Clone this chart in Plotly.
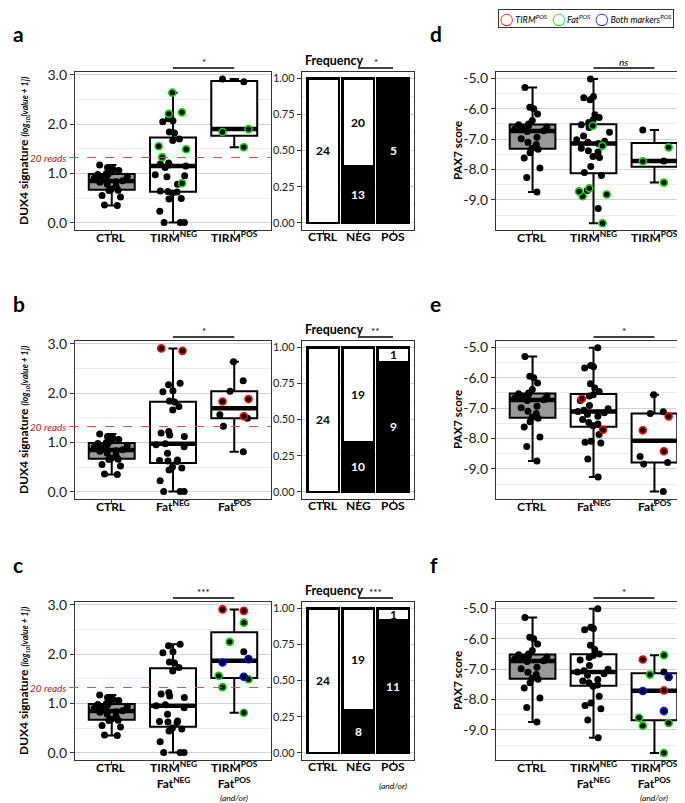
import numpy as np
import plotly.graph_objects as go

W, H = 685, 803
FONT = "Lato"

# ---------------- data ----------------
ctrl_dux4 = [1.17, 1.12, 1.08, 1.06, 1.03, 1.00, 0.98, 0.96, 0.94, 0.92, 0.90, 0.85,
             0.84, 0.83, 0.82, 0.78, 0.74, 0.68, 0.66, 0.65, 0.55, 0.52, 0.36, 0.35]
ctrl_pax7 = [-5.30, -5.95, -6.00, -6.17, -6.39, -6.50, -6.53, -6.56, -6.60, -6.62, -6.67, -6.72,
             -6.75, -6.94, -6.99, -7.10, -7.18, -7.30, -7.33, -7.45, -7.62, -7.95, -8.26, -8.74]

# panel a  (TIRM)  -- marker codes: k black, g Fat POS, r TIRM POS, b both
a_neg_dux4 = [2.64, 2.24, 2.21, 2.11, 2.07, 2.05, 1.84, 1.82, 1.70, 1.67, 1.55, 1.49, 1.33,
              1.21, 1.19, 1.17, 1.15, 1.12, 0.97, 0.95, 0.93, 0.80, 0.78, 0.64, 0.63, 0.62,
              0.60, 0.49, 0.48, 0.23, 0.0, 0.0, 0.0]
a_neg_mark = "ggg" + "k" * 7 + "ggg" + "k" * 8 + "g" + "k" * 11
a_pos_dux4 = [2.92, 2.86, 1.90, 1.84, 1.53]
a_pos_mark = "kkggg"

# panel b  (Fat)
b_neg_dux4 = [2.91, 2.86, 2.20, 2.17, 2.05, 2.03, 1.84, 1.82, 1.73, 1.66, 1.22, 1.19, 1.15,
              1.12, 0.97, 0.95, 0.91, 0.78, 0.64, 0.63, 0.62, 0.61, 0.50, 0.48, 0.44, 0.22,
              0.0, 0.0, 0.0]
b_neg_mark = "rr" + "k" * 27
b_pos_dux4 = [2.64, 2.25, 2.04, 1.88, 1.83, 1.56, 1.53, 1.49, 1.33, 0.81]
b_pos_mark = "kkkrrkrkkk"

# panel c  (TIRM and/or Fat)
c_neg_dux4 = [2.20, 2.17, 2.05, 2.03, 1.84, 1.82, 1.73, 1.66, 1.22, 1.19, 1.15, 1.12, 0.97,
              0.95, 0.91, 0.78, 0.64, 0.63, 0.62, 0.61, 0.50, 0.48, 0.44, 0.22, 0.0, 0.0, 0.0]
c_neg_mark = "k" * 27
c_pos_dux4 = [2.91, 2.88, 2.64, 2.25, 2.05, 1.90, 1.83, 1.56, 1.54, 1.49, 1.33, 0.81]
c_pos_mark = "rrggkbbgbggg"

# panel d
d_neg_pax7 = [-5.02, -5.60, -5.64, -5.70, -6.20, -6.29, -6.36, -6.45, -6.53, -6.56, -6.62,
              -6.77, -6.90, -7.02, -7.07, -7.10, -7.14, -7.22, -7.30, -7.38, -7.42, -7.57,
              -7.60, -7.90, -8.10, -8.20, -8.62, -8.69, -8.72, -8.82, -8.88, -9.28, -9.77]
d_neg_mark = "k" * 9 + "g" + "k" * 7 + "g" + "k" * 8 + "g" + "k" + "ggg" + "k" + "g"
d_pos_pax7 = [-6.70, -7.27, -7.72, -7.73, -8.43]
d_pos_mark = "kgkgg"

# panel e
e_neg_pax7 = [-5.01, -5.60, -5.64, -5.68, -6.20, -6.34, -6.45, -6.56, -6.60, -6.69, -6.75,
              -6.91, -7.02, -7.07, -7.11, -7.15, -7.20, -7.27, -7.37, -7.47, -7.52, -7.58,
              -7.71, -7.87, -8.09, -8.12, -8.15, -8.67, -9.27]
e_neg_mark = "k" * 9 + "r" + "k" * 12 + "r" + "k" * 6
e_pos_pax7 = [-6.56, -7.12, -7.18, -7.27, -7.73, -8.42, -8.59, -8.79, -8.84, -9.74]
e_pos_mark = "kkkrrrkkkk"

# panel f
f_neg_pax7 = [-5.01, -5.62, -5.66, -5.70, -6.21, -6.35, -6.50, -6.55, -6.62, -6.70, -6.88,
              -7.00, -7.05, -7.09, -7.15, -7.20, -7.34, -7.39, -7.45, -7.52, -7.56, -7.89,
              -8.11, -8.20, -8.30, -8.67, -9.26]
f_neg_mark = "k" * 27
f_pos_pax7 = [-6.54, -6.68, -7.09, -7.18, -7.26, -7.70, -7.72, -8.38, -8.60, -8.77, -8.86, -9.76]
f_pos_mark = "grkgbrbbgggg"

# frequency panels: counts above / below the 20-reads threshold
freq_cats = ["CTRL", "NEG", "POS"]
freq_above_a = [0, 13, 5]
freq_below_a = [24, 20, 0]
freq_above_b = [0, 10, 9]
freq_below_b = [24, 19, 1]
freq_above_c = [0, 8, 11]
freq_below_c = [24, 19, 1]

threshold_reads = 20

dux4_ticks = [0, 1, 2, 3]
dux4_ticktext = ["0.0", "1.0", "2.0", "3.0"]
pax7_ticks = [-9, -8, -7, -6, -5]
pax7_ticktext = ["-9.0", "-8.0", "-7.0", "-6.0", "-5.0"]
freq_ticks = [0, 0.25, 0.5, 0.75, 1.0]
freq_ticktext = ["0.00", "0.25", "0.50", "0.75", "1.00"]

SUPPAD = "<sup> </sup>"
labels_a = ["CTRL" + SUPPAD, "TIRM<sup>NEG</sup>", "TIRM<sup>POS</sup>"]
labels_b = ["CTRL" + SUPPAD, "Fat<sup>NEG</sup>", "Fat<sup>POS</sup>"]
labels_c = ["CTRL" + SUPPAD, "TIRM<sup>NEG</sup><br>Fat<sup>NEG</sup>",
            "TIRM<sup>POS</sup><br>Fat<sup>POS</sup>"]
freq_labels = ["CTRL", "NEG", "POS"]
sublabels_c = ["", "", "(and/or)"]

sig_box = [["*", "*", "<i>ns</i>"], ["*", "**", "*"], ["***", "***", "*"]]

# ---------------- styling ----------------
COL = {"k": "black", "g": "#00d400", "r": "#ff0000", "b": "#0000ff"}
CTRL_FILL = "#999999"
rows_px = [(64, 222), (333, 491), (594, 752)]
cols_px = [(67, 263), (294, 406), (488, 683)]


def xdom(c):
    a, b = cols_px[c]
    return [a / W, b / W]


def ydom(r):
    t, b = rows_px[r]
    return [1 - b / H, 1 - t / H]


def ax(k, w):
    return w if k == 1 else f"{w}{k}"


fig = go.Figure()
annotations = []
shapes = []


def add_box_panel(k, groups, marks):
    xr, yr = ax(k, "x"), ax(k, "y")
    for i, (vals, mk) in enumerate(zip(groups, marks)):
        fig.add_trace(go.Box(
            x=[i] * len(vals), y=vals, xaxis=xr, yaxis=yr, boxpoints=False,
            fillcolor=CTRL_FILL if i == 0 else "white",
            line=dict(color="black", width=2), width=0.75, whiskerwidth=0.2,
            quartilemethod="linear", showlegend=False, hoverinfo="skip"))
        med = float(np.median(vals))
        fig.add_trace(go.Box(
            x=[i], q1=[med], median=[med], q3=[med], lowerfence=[med], upperfence=[med],
            xaxis=xr, yaxis=yr, fillcolor="rgba(0,0,0,0)",
            line=dict(color="black", width=4.5), width=0.75, whiskerwidth=0,
            showlegend=False, hoverinfo="skip"))
        for code in "kgrb":
            sub = [v for v, m in zip(vals, mk) if m == code]
            if not sub:
                continue
            fig.add_trace(go.Box(
                x=[i] * len(sub), y=sub, xaxis=xr, yaxis=yr, boxpoints="all",
                jitter=0.8, pointpos=0, fillcolor="rgba(0,0,0,0)",
                line=dict(color="rgba(0,0,0,0)", width=0), width=0.75,
                marker=dict(size=7, color="black",
                            line=dict(color=COL[code], width=0 if code == "k" else 1.6)),
                showlegend=False, hoverinfo="skip"))


def add_freq_panel(k, above, below):
    xr, yr = ax(k, "x"), ax(k, "y")
    tot = [a + b for a, b in zip(above, below)]
    fa = [a / t for a, t in zip(above, tot)]
    fb = [b / t for b, t in zip(below, tot)]
    xs = list(range(len(freq_cats)))
    fig.add_trace(go.Bar(x=xs, y=fa, xaxis=xr, yaxis=yr, width=0.9,
                         marker=dict(color="black", line=dict(color="black", width=2.5)),
                         showlegend=False, hoverinfo="skip"))
    fig.add_trace(go.Bar(x=xs, y=fb, xaxis=xr, yaxis=yr, width=0.9,
                         marker=dict(color="white", line=dict(color="black", width=2.5)),
                         showlegend=False, hoverinfo="skip"))
    for i in xs:
        if above[i] > 0:
            annotations.append(dict(x=i, y=fa[i] / 2, xref=xr, yref=yr, text=f"<b>{above[i]}</b>",
                                    showarrow=False, font=dict(family=FONT, size=12, color="white")))
        if below[i] > 0:
            annotations.append(dict(x=i, y=fa[i] + fb[i] / 2, xref=xr, yref=yr, text=f"<b>{below[i]}</b>",
                                    showarrow=False, font=dict(family=FONT, size=12, color="black")))


box_data = [
    ([ctrl_dux4, a_neg_dux4, a_pos_dux4], ["k" * 24, a_neg_mark, a_pos_mark],
     [ctrl_pax7, d_neg_pax7, d_pos_pax7], ["k" * 24, d_neg_mark, d_pos_mark],
     freq_above_a, freq_below_a, labels_a, None),
    ([ctrl_dux4, b_neg_dux4, b_pos_dux4], ["k" * 24, b_neg_mark, b_pos_mark],
     [ctrl_pax7, e_neg_pax7, e_pos_pax7], ["k" * 24, e_neg_mark, e_pos_mark],
     freq_above_b, freq_below_b, labels_b, None),
    ([ctrl_dux4, c_neg_dux4, c_pos_dux4], ["k" * 24, c_neg_mark, c_pos_mark],
     [ctrl_pax7, f_neg_pax7, f_pos_pax7], ["k" * 24, f_neg_mark, f_pos_mark],
     freq_above_c, freq_below_c, labels_c, sublabels_c),
]

layout_axes = {}
thr = float(np.log10(threshold_reads + 1))
for r, (dg, dm, pg, pm, fa_, fb_, labs, subs) in enumerate(box_data):
    kd, kf, kp = r * 3 + 1, r * 3 + 2, r * 3 + 3
    add_box_panel(kd, dg, dm)
    add_freq_panel(kf, fa_, fb_)
    add_box_panel(kp, pg, pm)
    top, bot = rows_px[r]
    hpx = bot - top
    for c, k in enumerate((kd, kf, kp)):
        xa = "xaxis" if k == 1 else f"xaxis{k}"
        ya = "yaxis" if k == 1 else f"yaxis{k}"
        common = dict(showline=True, mirror=True, linecolor="#333333", linewidth=1.3,
                      ticks="outside", ticklen=4, tickcolor="#333333", tickwidth=1.2,
                      zeroline=False, automargin=False, fixedrange=True)
        layout_axes[xa] = dict(domain=xdom(c), anchor=ax(k, "y"), range=[-0.6, 2.6],
                               tickmode="array", tickvals=[0, 1, 2], showticklabels=False,
                               showgrid=False, **common)
        # category labels below the axis
        for i, lab in enumerate(freq_labels if c == 1 else labs):
            annotations.append(dict(x=i, y=1 - (bot - 2) / H, xref=ax(k, "x"), yref="paper",
                                    xanchor="center", yanchor="top", showarrow=False,
                                    text=f"<b>{lab}</b>", borderpad=0,
                                    font=dict(family=FONT, size=12, color="black")))
            if subs and subs[i]:
                off = 26 if c == 1 else 38
                annotations.append(dict(x=i, y=1 - (bot + off) / H, xref=ax(k, "x"), yref="paper",
                                        xanchor="center", yanchor="middle", showarrow=False,
                                        text=f"<i>{subs[i]}</i>", borderpad=0,
                                        font=dict(family=FONT, size=8.5, color="black")))
        if c == 0:
            yextra = dict(range=[-0.15, 3.06], tickvals=dux4_ticks, ticktext=dux4_ticktext,
                          minor=dict(tickvals=[0.5, 1.5, 2.5], showgrid=True, gridcolor="#ececec",
                                     gridwidth=1, ticks=""),
                          tickfont=dict(family=FONT, size=14, color="#222222"))
        elif c == 1:
            yextra = dict(range=[-0.05, 1.045], tickvals=freq_ticks, ticktext=freq_ticktext,
                          minor=dict(tickvals=[0.125, 0.375, 0.625, 0.875], showgrid=True,
                                     gridcolor="#ececec", gridwidth=1, ticks=""),
                          tickfont=dict(family=FONT, size=11, color="#222222"))
        else:
            yextra = dict(range=[-9.99, -4.79], tickvals=pax7_ticks, ticktext=pax7_ticktext,
                          minor=dict(tickvals=[-9.5, -8.5, -7.5, -6.5, -5.5], showgrid=True,
                                     gridcolor="#ececec", gridwidth=1, ticks=""),
                          tickfont=dict(family=FONT, size=14, color="#222222"))
        layout_axes[ya] = dict(domain=ydom(r), anchor=ax(k, "x"), tickmode="array",
                               showgrid=True, gridcolor="#d2d2d2", gridwidth=1.2,
                               **yextra, **common)

    ymid = 1 - (top + bot) / 2 / H
    # y titles
    annotations.append(dict(
        x=15 / W, y=ymid, xref="paper", yref="paper", textangle=-90, showarrow=False,
        xanchor="center", yanchor="middle",
        text="<b>DUX4 signature</b> <span style='font-size:8.5px'><b><i>(log<sub>10</sub>[value + 1])</i></b></span>",
        font=dict(family=FONT, size=12, color="black")))
    annotations.append(dict(
        x=449 / W, y=ymid, xref="paper", yref="paper", textangle=-90, showarrow=False,
        xanchor="center", yanchor="middle", text="<b>PAX7 score</b>",
        font=dict(family=FONT, size=11.5, color="black")))
    # threshold line + label
    shapes.append(dict(type="line", xref=ax(kd, "x") + " domain", yref=ax(kd, "y"),
                       x0=-0.03, x1=1, y0=thr, y1=thr,
                       line=dict(color="#e8474a", width=1, dash="dash")))
    annotations.append(dict(x=-0.035, y=thr, xref=ax(kd, "x") + " domain", yref=ax(kd, "y"),
                            xanchor="right", yanchor="middle", showarrow=False,
                            text="<i>20 reads</i>",
                            font=dict(family=FONT, size=10, color="#b01818")))
    # significance bars
    ylin = 1 + 4 / hpx
    for c, k in enumerate((kd, kf, kp)):
        shapes.append(dict(type="line", xref=ax(k, "x"), yref=ax(k, "y") + " domain",
                           x0=1, x1=2, y0=ylin, y1=ylin, line=dict(color="black", width=1.3)))
        annotations.append(dict(x=1.5, y=ylin, xref=ax(k, "x"), yref=ax(k, "y") + " domain",
                                xanchor="center", yanchor="bottom", showarrow=False,
                                text=sig_box[r][c], yshift=-2,
                                font=dict(family=FONT, size=10, color="black")))
    # Frequency title
    annotations.append(dict(x=295 / W, y=1 - (top - 12) / H, xref="paper", yref="paper",
                            xanchor="left", yanchor="middle", showarrow=False,
                            text="<b>Frequency</b>",
                            font=dict(family=FONT, size=12.5, color="black")))

# panel letters
for txt, xp, yp in [("a", 3, 25), ("b", 3, 296), ("c", 3, 556),
                    ("d", 420, 25), ("e", 420, 296), ("f", 420, 556)]:
    annotations.append(dict(x=xp / W, y=1 - yp / H, xref="paper", yref="paper",
                            xanchor="left", yanchor="middle", showarrow=False,
                            text=f"<b>{txt}</b>", font=dict(family=FONT, size=21, color="black")))

# legend box
NB = "\u00a0"
CIRC = "<span style='font-size:12px'>\u25ef</span>"
leg = (f"<span style='color:{COL['r']}'>{CIRC}</span>{NB}<i>TIRM<sup>POS</sup></i>{NB*2}"
       f"<span style='color:{COL['g']}'>{CIRC}</span>{NB}<i>Fat<sup>POS</sup></i>{NB*2}"
       f"<span style='color:{COL['b']}'>{CIRC}</span>{NB}<i>Both markers<sup>POS</sup></i>")
annotations.append(dict(x=490 / W, y=1 - 1 / H, xref="paper", yref="paper",
                        xanchor="left", yanchor="top", showarrow=False, text=leg,
                        bordercolor="#333333", borderwidth=1, borderpad=1,
                        font=dict(family=FONT, size=9, color="black")))

fig.update_layout(
    width=W, height=H, margin=dict(l=0, r=0, t=0, b=0),
    paper_bgcolor="white", plot_bgcolor="white",
    boxmode="overlay", barmode="stack", bargap=0.1,
    hovermode=False, showlegend=False,
    font=dict(family=FONT, color="black"),
    annotations=annotations, shapes=shapes,
    **layout_axes)

fig.write_html("out.html")
